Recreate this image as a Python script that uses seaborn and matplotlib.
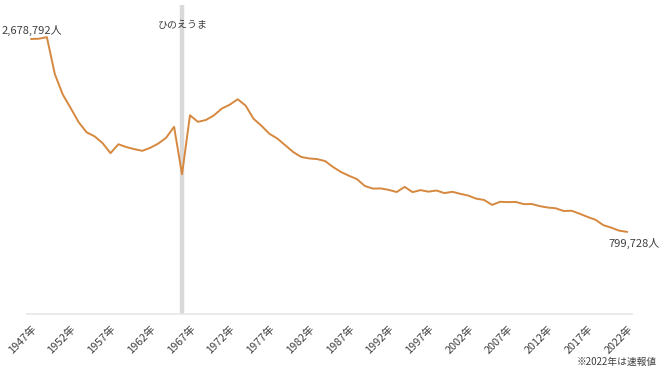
import matplotlib
matplotlib.use('Agg')
import seaborn as sns
import matplotlib.pyplot as plt
import pandas as pd

# births in Japan per year (2022 is preliminary)
years = list(range(1947, 2023))
births = [2678792, 2681624, 2696638, 2337507, 2137689, 2005162, 1868040, 1769580, 1730692, 1665278,
          1566713, 1653469, 1626088, 1606041, 1589372, 1618616, 1659521, 1716761, 1823697, 1360974,
          1935647, 1871839, 1889815, 1934239, 2000973, 2038682, 2091983, 2029989, 1901440, 1832617,
          1755100, 1708643, 1642580, 1576889, 1529455, 1515392, 1508687, 1489780, 1431577, 1382946,
          1346658, 1314006, 1246802, 1221585, 1223245, 1208989, 1188282, 1238328, 1187064, 1206555,
          1191665, 1203147, 1177669, 1190547, 1170662, 1153855, 1123610, 1110721, 1062530, 1092674,
          1089818, 1091156, 1070035, 1071304, 1050806, 1037231, 1029816, 1003539, 1005721, 977242,
          946146, 918400, 865239, 840835, 811622, 799728]
tickYears = list(range(1947, 2023, 5))
tickLabels = [str(y) + '年' for y in tickYears]
hinoeumaYear = 1966

df = pd.DataFrame({'year': years, 'births': births})

sns.set_theme(style='white')
plt.rcParams['font.family'] = ['Noto Sans CJK JP', 'DejaVu Sans']
textColour = '#404040'

fig = plt.figure(figsize=(6.6, 3.71), dpi=100)
ax = fig.add_axes([27/660, 1 - 314/371, (632 - 27)/660, (314 - 5)/371])

ax.axvline(hinoeumaYear, color='#d9d9d9', linewidth=3.2, zorder=1)
sns.lineplot(ax=ax, data=df, x='year', y='births', color='#d6883f', linewidth=1.4, zorder=3)

ax.set_xlim(1946.5, 2022.6)
ax.set_ylim(0, 3.01e6)
ax.set_xticks(tickYears)
ax.set_xticklabels(tickLabels, rotation=45, ha='right', rotation_mode='anchor', fontsize=7.8, color=textColour)
ax.tick_params(axis='x', length=0, pad=7)
ax.set_yticks([])
ax.set_xlabel('')
ax.set_ylabel('')
for side in ['top', 'right', 'left']:
	ax.spines[side].set_visible(False)
ax.spines['bottom'].set_color('#e6e6e6')
ax.spines['bottom'].set_linewidth(1.2)

# annotations
fig.text(2/660, 1 - 30/371, '{:,}人'.format(births[0]), fontsize=8, color=textColour, ha='left', va='center')
fig.text(608/660, 1 - 243/371, '{:,}人'.format(births[-1]), fontsize=8, color=textColour, ha='left', va='center')
fig.text(183/660, 1 - 25/371, 'ひのえうま', fontsize=7.2, color=textColour, ha='center', va='center')
fig.text(657/660, 1 - 362/371, '※2022年は速報値', fontsize=7, color=textColour, ha='right', va='center')

plt.savefig('out.png', dpi=100)
plt.close('all')
